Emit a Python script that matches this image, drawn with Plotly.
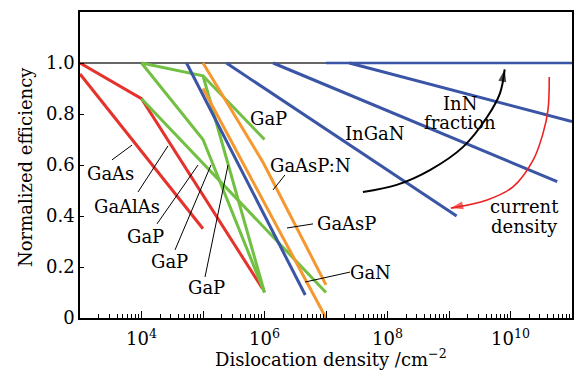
import plotly.graph_objects as go

FONT = "DejaVu Serif"

# ---- data (x: dislocation density in cm^-2, y: normalized efficiency) ----
gaas_x = [1e3, 1e5]
gaas_y = [0.957, 0.35]

gaalas_x = [1e3, 1e4, 9.3e5]
gaalas_y = [1.0, 0.86, 0.115]

gap_a_x = [1e4, 1e5, 1e6]
gap_a_y = [1.0, 0.95, 0.70]
gap_a2_x = [1e5, 1e6]
gap_a2_y = [0.95, 0.10]
gap_c_x = [1e4, 1e5, 1e6]
gap_c_y = [1.0, 0.70, 0.10]
gap_d_x = [1e4, 1e7]
gap_d_y = [0.86, 0.10]

gaaspn_x = [1e5, 9.5e5, 1e7]
gaaspn_y = [1.0, 0.61, 0.13]
gaasp_x = [1e5, 1e7]
gaasp_y = [0.90, 0.0]

gan_x = [5.4e4, 4.6e6]
gan_y = [1.0, 0.09]

ingan1_x = [2.4e5, 1.33e9]
ingan1_y = [1.0, 0.40]
ingan2_x = [1.38e6, 5.75e10]
ingan2_y = [1.0, 0.535]
ingan3_x = [2.4e7, 1e11]
ingan3_y = [1.0, 0.77]
ingan4_x = [1e7, 1e11]
ingan4_y = [1.0, 1.0]

# curved arrows (log10 x, y)
inn_arrow_lx = [7.60, 8.15, 8.69, 9.23, 9.62, 9.83, 9.905]
inn_arrow_y = [0.494, 0.522, 0.580, 0.671, 0.788, 0.882, 0.975]
cur_arrow_lx = [10.63, 10.61, 10.53, 10.37, 10.04, 9.62, 9.03]
cur_arrow_y = [0.945, 0.816, 0.725, 0.620, 0.514, 0.463, 0.431]

x_label_vals = [1e4, 1e6, 1e8, 1e10]
x_label_text = ["10<sup>4</sup>", "10<sup>6</sup>", "10<sup>8</sup>", "10<sup>10</sup>"]
x_odd_vals = [1e3, 1e5, 1e7, 1e9, 1e11]
y_tick_vals = [0, 0.2, 0.4, 0.6, 0.8, 1.0, 1.2]
y_tick_text = ["0", "0.2", "0.4", "0.6", "0.8", "1.0", "1.2"]

RED = "#e5322d"
GREEN = "#72c043"
BLUE = "#3a55a5"
ORANGE = "#f4982f"

fig = go.Figure()

# reference line at 1.0
fig.add_shape(type="line", xref="paper", yref="y", x0=0, x1=1, y0=1.0, y1=1.0,
              line=dict(color="#333333", width=1.3), layer="below")

def add(x, y, color, width=3):
    fig.add_trace(go.Scatter(x=x, y=y, mode="lines", line=dict(color=color, width=width),
                             showlegend=False, hoverinfo="skip"))

add(gaas_x, gaas_y, RED)
add(gaalas_x, gaalas_y, RED)
add(gap_a_x, gap_a_y, GREEN)
add(gap_a2_x, gap_a2_y, GREEN)
add(gap_c_x, gap_c_y, GREEN)
add(gap_d_x, gap_d_y, GREEN)
add(gaaspn_x, gaaspn_y, ORANGE)
add(gaasp_x, gaasp_y, ORANGE)
add(gan_x, gan_y, BLUE)
add(ingan1_x, ingan1_y, BLUE)
add(ingan2_x, ingan2_y, BLUE)
add(ingan3_x, ingan3_y, BLUE)
add(ingan4_x, ingan4_y, BLUE, 2.5)

# curved arrows with arrowheads
def curved_arrow(lx, yv, color, width, head):
    xs = [10 ** v for v in lx]
    fig.add_trace(go.Scatter(x=xs, y=yv, mode="lines",
                             line=dict(color=color, width=width, shape="spline", smoothing=1.0),
                             showlegend=False, hoverinfo="skip"))
    fig.add_trace(go.Scatter(x=xs[-2:], y=yv[-2:], mode="markers",
                             marker=dict(symbol="arrow", angleref="previous", size=[0, head],
                                         color=color, line=dict(width=0)),
                             showlegend=False, hoverinfo="skip"))

curved_arrow(inn_arrow_lx, inn_arrow_y, "black", 2, 13)
curved_arrow(cur_arrow_lx, cur_arrow_y, "#ee2222", 1.6, 13)

annotations = []
# text labels (log10 x, y)
labels = [
    ("GaAs", 3.49, 0.565),
    ("GaAlAs", 3.76, 0.439),
    ("GaP", 4.06, 0.318),
    ("GaP", 4.46, 0.220),
    ("GaP", 5.05, 0.118),
    ("GaP", 6.06, 0.784),
    ("GaAsP:N", 6.74, 0.600),
    ("GaAsP", 7.34, 0.369),
    ("GaN", 7.73, 0.180),
    ("InGaN", 7.79, 0.725),
    ("InN", 9.18, 0.843),
    ("fraction", 9.18, 0.765),
    ("current", 10.22, 0.437),
    ("density", 10.22, 0.359),
]
for t, lx, yy in labels:
    annotations.append(dict(x=lx, y=yy, xref="x", yref="y", text=t, showarrow=False,
                            font=dict(family=FONT, size=18, color="black"),
                            xanchor="center", yanchor="middle"))

# leader lines (log10 x0, y0, log10 x1, y1)
leaders = [
    (3.52, 0.620, 3.846, 0.678),
    (3.943, 0.494, 4.431, 0.675),
    (4.252, 0.369, 4.919, 0.600),
    (4.545, 0.267, 5.130, 0.600),
    (5.033, 0.161, 5.407, 0.600),
    (6.333, 0.561, 6.138, 0.502),
    (6.789, 0.369, 6.366, 0.353),
    (7.39, 0.180, 6.659, 0.141),
]
for x0, y0, x1, y1 in leaders:
    fig.add_shape(type="line", xref="x", yref="y", x0=10 ** x0, y0=y0, x1=10 ** x1, y1=y1,
                  line=dict(color="black", width=1))

# axis titles
annotations.append(dict(x=-0.112, y=0.493, xref="paper", yref="paper", text="Normalized efficiency",
                        textangle=-90, showarrow=False, font=dict(family=FONT, size=18, color="black"),
                        xanchor="center", yanchor="middle"))
annotations.append(dict(x=0.51, y=-0.13, xref="paper", yref="paper",
                        text="Dislocation density /cm<sup>−2</sup>", showarrow=False,
                        font=dict(family=FONT, size=18, color="black"),
                        xanchor="center", yanchor="middle"))

minor_vals = [m * 10 ** e for e in range(3, 11) for m in range(2, 10)]

# page body has an 8px margin, so the figure is sized/offset to compensate
fig.update_layout(
    width=574, height=366,
    margin=dict(l=72, r=10, t=4, b=56),
    paper_bgcolor="white", plot_bgcolor="white",
    annotations=annotations,
    xaxis=dict(type="log", range=[3, 11], showgrid=False, zeroline=False, automargin=False,
               showline=True, linecolor="black", linewidth=1.5, mirror=True,
               tickmode="array", tickvals=x_label_vals, ticktext=x_label_text,
               ticks="inside", ticklen=7, tickcolor="black", tickwidth=1,
               ticklabelstandoff=4,
               tickfont=dict(family=FONT, size=18, color="black"),
               minor=dict(tickmode="array", tickvals=minor_vals, ticks="inside",
                          ticklen=4, tickcolor="black", tickwidth=1, showgrid=False)),
    xaxis2=dict(type="log", range=[3, 11], overlaying="x", matches="x", anchor="y", side="bottom",
                showgrid=False, zeroline=False, automargin=False, showline=False,
                tickmode="array", tickvals=x_odd_vals, showticklabels=False,
                ticks="inside", ticklen=7, tickcolor="black", tickwidth=1),
    yaxis=dict(range=[0, 1.2], showgrid=False, zeroline=False, automargin=False,
               showline=True, linecolor="black", linewidth=1.5, mirror=True,
               tickmode="array", tickvals=y_tick_vals, ticktext=y_tick_text,
               ticks="inside", ticklen=4, tickcolor="black", tickwidth=1,
               tickfont=dict(family=FONT, size=18, color="black")),
)
# invisible trace to activate xaxis2
fig.add_trace(go.Scatter(x=[1e3], y=[0], xaxis="x2", yaxis="y", mode="markers",
                         marker=dict(size=0, opacity=0), showlegend=False, hoverinfo="skip"))

fig.write_html("out.html")
